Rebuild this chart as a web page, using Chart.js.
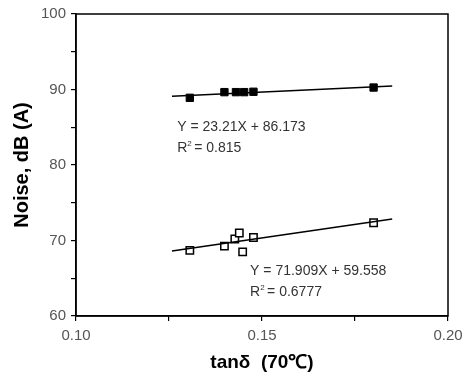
<!DOCTYPE html>
<html><head><meta charset="utf-8">
<script src="https://cdn.jsdelivr.net/npm/chart.js@4/dist/chart.umd.min.js"></script>
<style>html,body{margin:0;padding:0;background:#fff}#wrap{width:463px;height:378px}</style>
</head><body><div id="wrap"><canvas id="c"></canvas></div>
<script>
const filledX = [0.1306, 0.1399, 0.1430, 0.1452, 0.1477, 0.1800];
const filledY = [88.9, 89.65, 89.65, 89.65, 89.7, 90.26];
const openX = [0.1306, 0.1399, 0.1427, 0.1439, 0.1448, 0.1477, 0.1800];
const openY = [68.7, 69.26, 70.2, 71.0, 68.5, 70.4, 72.35];
const fitRange = [0.1258, 0.185];
const fit1 = {slope: 23.21, intercept: 86.173, label: 'Y = 23.21X + 86.173', r2: '0.815'};
const fit2 = {slope: 71.909, intercept: 59.558, label: 'Y = 71.909X + 59.558', r2: '0.6777'};
const xTicks = [0.10, 0.15, 0.20];
const yTicks = [60, 70, 80, 90, 100];

const pts = (xs, ys) => xs.map((x, i) => ({x, y: ys[i]}));
const fitPts = f => fitRange.map(x => ({x, y: f.slope * x + f.intercept}));
const FAM = '"Liberation Sans", Arial, sans-serif';

const annot = {
  id: 'annot',
  afterDraw(chart) {
    const {ctx, chartArea: a, scales: {x, y}} = chart;
    ctx.save();
    ctx.strokeStyle = '#000'; ctx.lineWidth = 1.5;
    ctx.strokeRect(a.left, a.top, a.right - a.left, a.bottom - a.top);
    const drawEq = (f, px, py) => {
      ctx.fillStyle = '#333';
      ctx.font = '14px ' + FAM;
      ctx.textBaseline = 'middle'; ctx.textAlign = 'left';
      ctx.fillText(f.label, px, py);
      const y2 = py + 21;
      ctx.fillText('R', px, y2);
      const w = ctx.measureText('R').width;
      ctx.font = '8px ' + FAM;
      ctx.fillText('2', px + w, y2 - 5);
      ctx.font = '14px ' + FAM;
      ctx.fillText(' = ' + f.r2, px + w + 3, y2);
    };
    drawEq(fit1, x.getPixelForValue(0.1272), y.getPixelForValue(84.95));
    drawEq(fit2, x.getPixelForValue(0.1468), y.getPixelForValue(65.9));
    ctx.restore();
  }
};

new Chart(document.getElementById('c'), {
  type: 'scatter',
  data: {
    datasets: [
      {data: fitPts(fit1), showLine: true, borderColor: '#000', borderWidth: 1.5, pointRadius: 0},
      {data: fitPts(fit2), showLine: true, borderColor: '#000', borderWidth: 1.5, pointRadius: 0},
      {data: pts(filledX, filledY), pointStyle: 'rect', pointRadius: 5.2, backgroundColor: '#000', borderColor: '#000', borderWidth: 1},
      {data: pts(openX, openY), pointStyle: 'rect', pointRadius: 5.2, backgroundColor: '#fff', borderColor: '#000', borderWidth: 1.5}
    ]
  },
  options: {
    responsive: true, maintainAspectRatio: false, animation: false,
    layout: {padding: {top: 14, right: 15, left: 0, bottom: 0}},
    plugins: {legend: {display: false}, tooltip: {enabled: false}},
    scales: {
      x: {
        type: 'linear', min: 0.10, max: 0.20,
        afterFit(s) { s.height = 62; s.paddingLeft = 0; s.paddingRight = 0; },
        afterBuildTicks(s) { s.ticks = [0.10, 0.125, 0.15, 0.175, 0.20].map(v => ({value: v})); },
        ticks: {
          color: '#555', font: {size: 15, family: FAM}, padding: 6,
          maxRotation: 0, autoSkip: false,
          callback: v => xTicks.some(t => Math.abs(t - v) < 1e-9) ? v.toFixed(2) : ''
        },
        grid: {drawOnChartArea: false, drawTicks: true, tickLength: 5, color: '#000', lineWidth: 1.2},
        border: {display: true, color: '#000', width: 1.5},
        title: {display: true, text: 'tanδ  (70℃)', color: '#000', padding: {top: 1},
          font: {size: 19, weight: 'bold', family: FAM}}
      },
      y: {
        type: 'linear', min: 60, max: 100,
        afterFit(s) { s.width = 76; s.paddingTop = 0; s.paddingBottom = 0; },
        afterBuildTicks(s) { s.ticks = [60, 65, 70, 75, 80, 85, 90, 95, 100].map(v => ({value: v})); },
        ticks: {
          color: '#555', font: {size: 15, family: FAM}, padding: 5,
          autoSkip: false,
          callback: v => yTicks.includes(v) ? String(v) : ''
        },
        grid: {drawOnChartArea: false, drawTicks: true, tickLength: 5, color: '#000', lineWidth: 1.2},
        border: {display: true, color: '#000', width: 1.5},
        title: {display: true, text: 'Noise, dB (A)', color: '#000', padding: {bottom: 0, top: 10},
          font: {size: 20, weight: 'bold', family: FAM}}
      }
    }
  },
  plugins: [annot]
});
</script></body></html>
